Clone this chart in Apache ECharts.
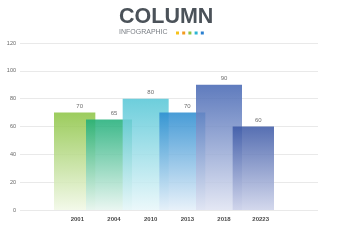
<!DOCTYPE html>
<html><head><meta charset="utf-8">
<script src="https://cdn.jsdelivr.net/npm/echarts@6/dist/echarts.min.js"></script>
<style>html,body{margin:0;padding:0;background:#fff}#c{width:339px;height:240px}</style>
</head><body><div id="c"></div>
<script>
const categories = ['2001', '2004', '2010', '2013', '2018', '20223'];
const values = [70, 65, 80, 70, 90, 60];
const topColors = ['#8cc443', '#1fae78', '#55c6d6', '#2b8cd0', '#4566b3', '#3b58a6'];
const bottomColors = ['#f1f8e6', '#e6f5ef', '#e8f7fa', '#e4eff9', '#dfe3f2', '#cdd2ea'];
const dotColors = ['#f6c21b', '#f39a1e', '#8cc443', '#2bb5d3', '#2a7fd0'];
const yMin = 0, yMax = 120, yStep = 20;

const chart = echarts.init(document.getElementById('c'), null, {renderer: 'canvas'});
const barData = values.map((v, i) => ({
  value: v,
  itemStyle: {
    color: new echarts.graphic.LinearGradient(0, 0, 0, 1, [
      {offset: 0, color: topColors[i]},
      {offset: 1, color: bottomColors[i]}
    ]),
    opacity: 0.86
  }
}));
chart.setOption({
  animation: false,
  backgroundColor: '#fff',
  title: {
    text: 'COLUMN',
    subtext: 'INFOGRAPHIC',
    left: 114, top: 1,
    itemGap: 1,
    textStyle: {fontFamily: 'Liberation Sans', fontWeight: 'bold', fontSize: 21.5, color: '#4b5259'},
    subtextStyle: {fontFamily: 'Liberation Sans', fontSize: 7, color: '#7a7f85'}
  },
  graphic: dotColors.map((c, i) => ({
    type: 'rect', left: 176 + i * 6.2, top: 31.5,
    shape: {width: 3, height: 3}, style: {fill: c}
  })),
  grid: [
    {left: 20, right: 21, top: 43, bottom: 30},
    {left: 54, right: 65, top: 43, bottom: 30}
  ],
  xAxis: [
    {gridIndex: 0, type: 'category', data: categories, show: false},
    {gridIndex: 1, type: 'category', data: categories,
     axisLine: {show: false}, axisTick: {show: false},
     axisLabel: {fontFamily: 'Liberation Sans', fontSize: 6, fontWeight: 'bold', color: '#4a4a4a', margin: 6, padding: [0, 0, 0, 10]}}
  ],
  yAxis: [
    {gridIndex: 0, type: 'value', min: yMin, max: yMax, interval: yStep,
     axisLine: {show: false}, axisTick: {show: false},
     axisLabel: {fontFamily: 'Liberation Sans', fontSize: 5.5, color: '#666', margin: 4},
     splitLine: {lineStyle: {color: '#e9e9e9', width: 1}}},
    {gridIndex: 1, type: 'value', min: yMin, max: yMax, interval: yStep, show: false, splitLine: {show: false}}
  ],
  series: [{
    type: 'bar',
    xAxisIndex: 1, yAxisIndex: 1,
    data: barData,
    barWidth: 46,
    label: {show: true, position: 'top', distance: 3, offset: [5, 0], fontFamily: 'Liberation Sans', fontSize: 6, color: '#555'}
  }]
});
</script></body></html>
